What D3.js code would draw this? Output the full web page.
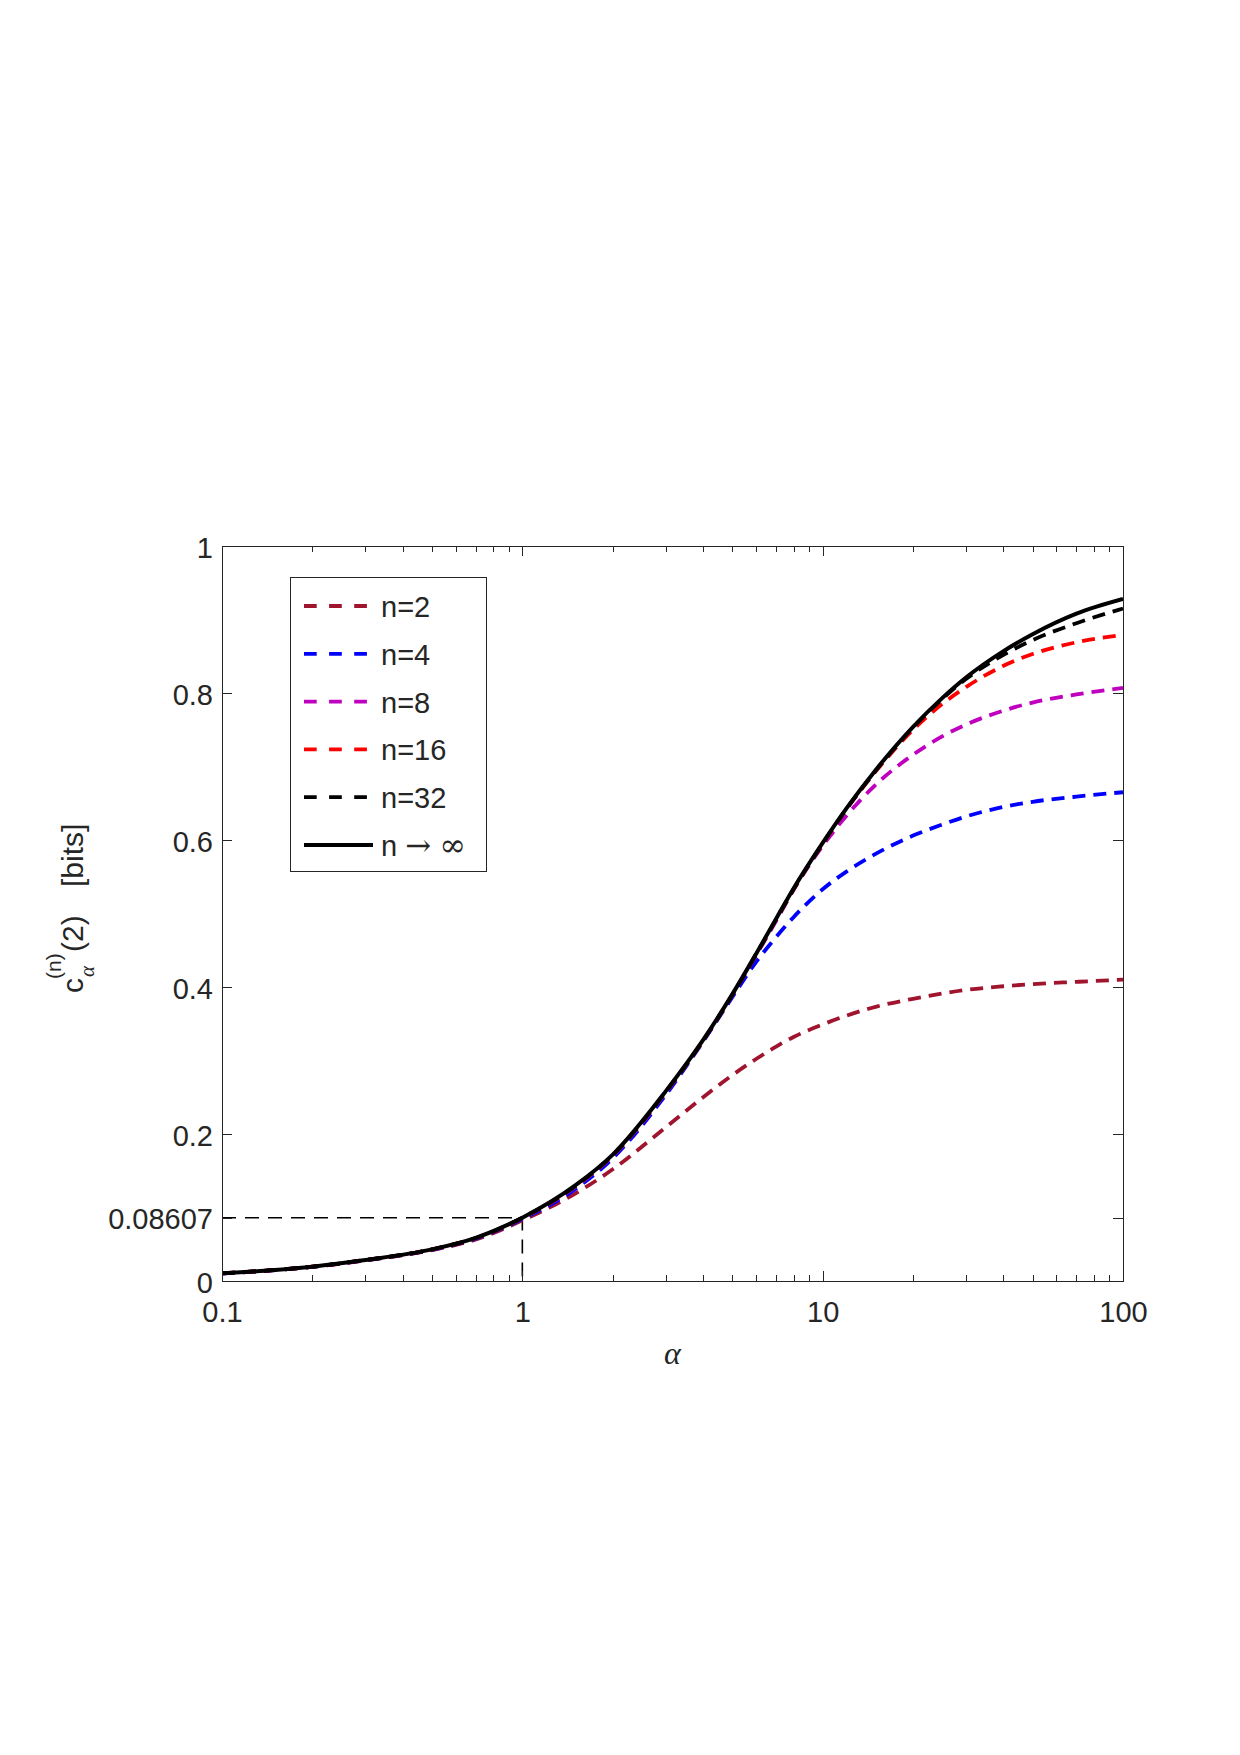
<!DOCTYPE html>
<html lang="en">
  <head>
    <meta charset="UTF-8" />
    <title>c_alpha^(n)(2) versus alpha</title>
    <script src="https://d3js.org/d3.v7.min.js"></script>
    <style>
      body {
        margin: 0;
        background: #fff;
      }
      svg text {
        font-family: "Liberation Sans", Arial, Helvetica, sans-serif;
        fill: #262626;
      }
      .axis path,
      .axis line {
        stroke: #262626;
        shape-rendering: crispEdges;
      }
      .axis text {
        font-size: 29px;
      }
      .math {
        font-family: "Liberation Serif", "DejaVu Serif", serif !important;
        font-style: italic;
      }
    </style>
  </head>
  <body>
    <div id="chart"></div>

    <script>
      // alpha sample points (log axis)
      const alpha = [0.1, 0.15, 0.2, 0.3, 0.5, 0.7, 1, 1.5, 2, 3, 4, 5, 6, 7, 8, 10, 12, 15, 20, 25, 30, 40, 50, 70, 100];

      // values, in bits
      const n2 = [0.0103, 0.0148, 0.0192, 0.028, 0.042, 0.0565, 0.0825, 0.119, 0.152, 0.209, 0.25, 0.28, 0.302, 0.319, 0.332, 0.349, 0.361, 0.373, 0.384, 0.391, 0.396, 0.401, 0.404, 0.407, 0.41];
      const n4 = [0.0103, 0.0148, 0.0193, 0.0282, 0.0424, 0.0577, 0.0843, 0.125, 0.167, 0.253, 0.326, 0.386, 0.434, 0.468, 0.495, 0.533, 0.557, 0.581, 0.606, 0.621, 0.632, 0.645, 0.652, 0.659, 0.665];
      const n8 = [0.0104, 0.0149, 0.0194, 0.0284, 0.0428, 0.0582, 0.0855, 0.128, 0.17, 0.256, 0.327, 0.389, 0.443, 0.49, 0.532, 0.592, 0.633, 0.675, 0.716, 0.741, 0.757, 0.776, 0.787, 0.798, 0.807];
      const n16 = [0.0105, 0.015, 0.0195, 0.0285, 0.0429, 0.0584, 0.0858, 0.129, 0.171, 0.257, 0.327, 0.389, 0.444, 0.492, 0.533, 0.595, 0.642, 0.693, 0.75, 0.785, 0.808, 0.837, 0.853, 0.869, 0.879];
      const n32 = [0.0105, 0.015, 0.0195, 0.0285, 0.043, 0.0585, 0.086, 0.129, 0.171, 0.257, 0.327, 0.389, 0.444, 0.492, 0.533, 0.595, 0.642, 0.694, 0.753, 0.792, 0.819, 0.852, 0.872, 0.895, 0.915];
      const nInf = [0.0105, 0.015, 0.0195, 0.0285, 0.043, 0.0586, 0.0861, 0.13, 0.172, 0.258, 0.328, 0.39, 0.445, 0.493, 0.534, 0.596, 0.643, 0.695, 0.754, 0.793, 0.821, 0.857, 0.88, 0.908, 0.928];

      const seriesNames = ["n=2", "n=4", "n=8", "n=16", "n=32"];
      const seriesColors = ["#a0142e", "#0000ff", "#bf00bf", "#ff0000", "#000000"];

      const xTicks = [0.1, 1, 10, 100];
      const xTickLabels = ["0.1", "1", "10", "100"];
      const yTicks = [0, 0.08607, 0.2, 0.4, 0.6, 0.8, 1];
      const yTickLabels = ["0", "0.08607", "0.2", "0.4", "0.6", "0.8", "1"];
      const markAlpha = 1;
      const markValue = 0.08607;

      const width = 1240;
      const height = 1755;
      const plotLeft = 222,
        plotRight = 1123,
        plotTop = 546,
        plotBottom = 1281;

      const svg = d3.select("#chart").append("svg").attr("width", width).attr("height", height);

      const x = d3.scaleLog().domain([0.1, 100]).range([plotLeft, plotRight]);
      const y = d3.scaleLinear().domain([0, 1]).range([plotBottom, plotTop]);

      // minor ticks 2..9 of each decade
      const minorTicks = [];
      [0.1, 1, 10].forEach((d) => {
        for (let k = 2; k <= 9; k++) minorTicks.push(d * k);
      });

      // reference dashed lines at alpha = 1
      svg
        .append("path")
        .attr("d", `M${x(0.1)},${y(markValue)}H${x(markAlpha)}V${y(0)}`)
        .attr("fill", "none")
        .attr("stroke", "#000")
        .attr("stroke-width", 1.6)
        .attr("stroke-dasharray", "14,9");

      // curves
      svg
        .append("clipPath")
        .attr("id", "clip")
        .append("rect")
        .attr("x", plotLeft)
        .attr("y", plotTop)
        .attr("width", plotRight - plotLeft)
        .attr("height", plotBottom - plotTop);

      const line = d3
        .line()
        .x((d) => x(d[0]))
        .y((d) => y(d[1]))
        .curve(d3.curveMonotoneX);

      const dashed = [n2, n4, n8, n16, n32];
      dashed.forEach((vals, i) => {
        svg
          .append("path")
          .datum(alpha.map((a, j) => [a, vals[j]]))
          .attr("clip-path", "url(#clip)")
          .attr("d", line)
          .attr("fill", "none")
          .attr("stroke", seriesColors[i])
          .attr("stroke-width", 3.8)
          .attr("stroke-dasharray", "13,8");
      });
      svg
        .append("path")
        .datum(alpha.map((a, j) => [a, nInf[j]]))
        .attr("clip-path", "url(#clip)")
        .attr("d", line)
        .attr("fill", "none")
        .attr("stroke", "#000")
        .attr("stroke-width", 4);

      // axes (ticks point inward, box on)
      svg
        .append("g")
        .attr("class", "axis")
        .attr("transform", `translate(0,${plotBottom})`)
        .call(d3.axisBottom(x).tickValues(xTicks).tickFormat((d, i) => xTickLabels[i]).tickSizeInner(-10).tickSizeOuter(0).tickPadding(20));
      svg
        .append("g")
        .attr("class", "axis")
        .attr("transform", `translate(0,${plotBottom})`)
        .call(d3.axisBottom(x).tickValues(minorTicks).tickFormat("").tickSizeInner(-6).tickSizeOuter(0));
      svg
        .append("g")
        .attr("class", "axis")
        .attr("transform", `translate(0,${plotTop})`)
        .call(d3.axisTop(x).tickValues(xTicks).tickFormat("").tickSizeInner(-10).tickSizeOuter(0));
      svg
        .append("g")
        .attr("class", "axis")
        .attr("transform", `translate(0,${plotTop})`)
        .call(d3.axisTop(x).tickValues(minorTicks).tickFormat("").tickSizeInner(-6).tickSizeOuter(0));

      const yAxisG = svg
        .append("g")
        .attr("class", "axis")
        .attr("transform", `translate(${plotLeft},0)`)
        .call(d3.axisLeft(y).tickValues(yTicks).tickFormat((d, i) => yTickLabels[i]).tickSizeInner(-10).tickSizeOuter(0).tickPadding(9));
      yAxisG.selectAll("text").attr("dy", "0.38em");
      svg
        .append("g")
        .attr("class", "axis")
        .attr("transform", `translate(${plotRight},0)`)
        .call(d3.axisRight(y).tickValues(yTicks).tickFormat("").tickSizeInner(-10).tickSizeOuter(0));

      svg.selectAll(".axis .domain").attr("stroke", "#262626");

      // x label
      svg
        .append("text")
        .attr("class", "math")
        .attr("x", (plotLeft + plotRight) / 2)
        .attr("y", 1364)
        .attr("text-anchor", "middle")
        .attr("font-size", 32)
        .text("α");

      // y label: c_alpha^(n)(2)  [bits]
      const yl = svg.append("g").attr("transform", "translate(83,993) rotate(-90)");
      yl.append("text").attr("x", 0).attr("y", 0).attr("font-size", 30).text("c");
      yl.append("text").attr("x", 14).attr("y", -22).attr("font-size", 21).text("(n)");
      yl.append("text").attr("class", "math").attr("x", 16).attr("y", 11).attr("font-size", 21).text("α");
      yl.append("text").attr("x", 41).attr("y", 0).attr("font-size", 30).text("(2)");
      yl.append("text").attr("x", 106).attr("y", 0).attr("font-size", 30).text("[bits]");

      // legend
      const lg = svg.append("g");
      lg.append("rect")
        .attr("x", 290.5)
        .attr("y", 577.5)
        .attr("width", 196)
        .attr("height", 294)
        .attr("fill", "#fff")
        .attr("stroke", "#262626")
        .attr("stroke-width", 1);

      const rowY = (i) => 606 + i * 47.8;
      seriesNames.forEach((name, i) => {
        lg.append("line")
          .attr("x1", 304)
          .attr("x2", 367)
          .attr("y1", rowY(i))
          .attr("y2", rowY(i))
          .attr("stroke", seriesColors[i])
          .attr("stroke-width", 3.8)
          .attr("stroke-dasharray", "12.7,12.4");
        lg.append("text")
          .attr("x", 381)
          .attr("y", rowY(i) + 11)
          .attr("font-size", 29)
          .text(name);
      });
      lg.append("line")
        .attr("x1", 304)
        .attr("x2", 373)
        .attr("y1", rowY(5))
        .attr("y2", rowY(5))
        .attr("stroke", "#000")
        .attr("stroke-width", 4);
      const infText = lg.append("text").attr("x", 381).attr("y", rowY(5) + 11).attr("font-size", 29);
      infText.append("tspan").text("n");
      infText.append("tspan").attr("dx", 8).attr("font-family", "DejaVu Serif, serif").attr("font-size", 31).text("→");
      infText.append("tspan").attr("dx", 8).attr("font-family", "DejaVu Serif, serif").attr("font-size", 32).text("∞");
    </script>
  </body>
</html>
